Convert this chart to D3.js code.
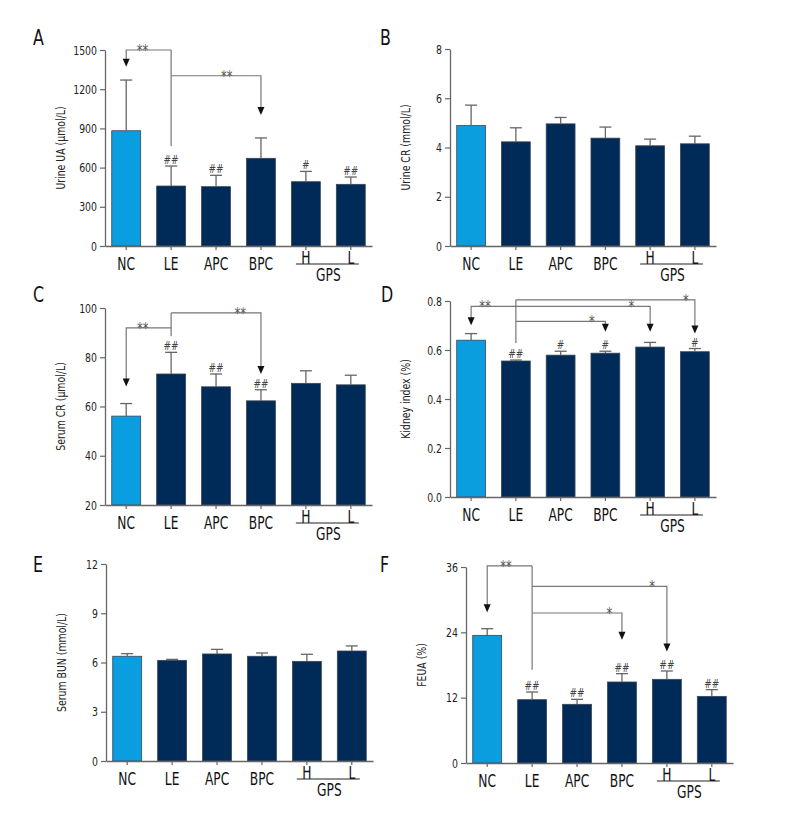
<!DOCTYPE html>
<html>
<head>
<meta charset="utf-8">
<script src="https://d3js.org/d3.v7.min.js"></script>
<style>
  body { margin: 0; background: #fff; }
  text { font-family: "Liberation Sans Narrow", "Arial Narrow", "DejaVu Sans Condensed", sans-serif; }
</style>
</head>
<body>
<svg id="fig" width="792" height="840"></svg>
<script>
// groups on every x axis
const groups = ["NC", "LE", "APC", "BPC", "H", "L"];

// A - urine uric acid
const urineUA = [882, 459, 454, 671, 492, 472];
const urineUAsd = [388, 153, 87, 156, 79, 56];
const urineUAhash = ["", "##", "##", "", "#", "##"];
const urineUAticks = [0, 300, 600, 900, 1200, 1500];

// B - urine creatinine
const urineCR = [4.89, 4.23, 4.96, 4.38, 4.07, 4.15];
const urineCRsd = [0.83, 0.57, 0.26, 0.45, 0.27, 0.31];
const urineCRticks = [0, 2, 4, 6, 8];

// C - serum creatinine
const serumCR = [56.1, 73.2, 68.0, 62.3, 69.4, 68.8];
const serumCRsd = [5.1, 8.8, 5.2, 4.5, 5.1, 3.9];
const serumCRhash = ["", "##", "##", "##", "", ""];
const serumCRticks = [20, 40, 60, 80, 100];

// D - kidney index
const kidney = [0.640, 0.555, 0.579, 0.587, 0.612, 0.593];
const kidneySd = [0.027, 0.004, 0.016, 0.008, 0.019, 0.013];
const kidneyHash = ["", "##", "#", "#", "", "#"];
const kidneyTicks = [0, 0.2, 0.4, 0.6, 0.8];

// E - serum BUN
const serumBUN = [6.38, 6.13, 6.52, 6.38, 6.07, 6.70];
const serumBUNsd = [0.16, 0.06, 0.28, 0.20, 0.43, 0.31];
const serumBUNticks = [0, 3, 6, 9, 12];

// F - FEUA
const feua = [23.45, 11.63, 10.78, 14.88, 15.37, 12.24];
const feuaSd = [1.22, 1.41, 0.91, 1.53, 1.53, 1.23];
const feuaHash = ["", "##", "##", "##", "##", "##"];
const feuaTicks = [0, 12, 24, 36];

// significance brackets from LE: stem range, then target / level / arrow tip / label
const annA = { stem: [765, 1500], links: [
  { to: "NC", level: 1500, tip: 1372, label: "**", t: 0.64 },
  { to: "BPC", level: 1303, tip: 1003, label: "**", t: 0.62 } ] };
const annC = { stem: [88.5, 98], links: [
  { to: "NC", level: 91.9, tip: 68.1, label: "**", t: 0.63 },
  { to: "BPC", level: 98, tip: 73.2, label: "**", t: 0.77 } ] };
const annD = { stem: [0.629, 0.805], links: [
  { to: "NC", level: 0.778, tip: 0.701, label: "**", t: 0.69 },
  { to: "H", level: 0.778, tip: 0.674, label: "*", t: 0.86 },
  { to: "BPC", level: 0.717, tip: 0.674, label: "*", t: 0.85 },
  { to: "L", level: 0.805, tip: 0.667, label: "*", t: 0.95 } ] };
const annF = { stem: [17.14, 36.2], links: [
  { to: "NC", level: 36.2, tip: 27.7, label: "**", t: 0.58 },
  { to: "H", level: 32.45, tip: 20.5, label: "*", t: 0.89 },
  { to: "BPC", level: 27.55, tip: 22.65, label: "*", t: 0.86 } ] };

const svg = d3.select("svg#fig");
const light = "#0a9de0", navy = "#002a58", axisCol = "#666", lineCol = "#777";
const SX = 0.8; // squeeze text horizontally, the source font is a condensed one

const panels = [
  { letter: "A", mean: urineUA, sd: urineUAsd, hash: urineUAhash, ann: annA, ticks: urineUAticks,
    fmt: d3.format("d"), ylab: "Urine UA (\u03bcmol/L)", x0: 105, x1: 372, yt: 50, yb: 246, lx: 33, ly: 45 },
  { letter: "B", mean: urineCR, sd: urineCRsd, ticks: urineCRticks,
    fmt: d3.format("d"), ylab: "Urine CR (mmol/L)", x0: 450, x1: 716, yt: 49, yb: 246, lx: 380, ly: 45 },
  { letter: "C", mean: serumCR, sd: serumCRsd, hash: serumCRhash, ann: annC, ticks: serumCRticks,
    fmt: d3.format("d"), ylab: "Serum CR (\u03bcmol/L)", x0: 105, x1: 372, yt: 308, yb: 505, lx: 33, ly: 302 },
  { letter: "D", mean: kidney, sd: kidneySd, hash: kidneyHash, ann: annD, ticks: kidneyTicks,
    fmt: d3.format(".1f"), ylab: "Kidney index (%)", x0: 450, x1: 716, yt: 301, yb: 497, lx: 381, ly: 302 },
  { letter: "E", mean: serumBUN, sd: serumBUNsd, ticks: serumBUNticks,
    fmt: d3.format("d"), ylab: "Serum BUN (mmol/L)", x0: 106, x1: 373, yt: 564, yb: 761, lx: 33, ly: 572 },
  { letter: "F", mean: feua, sd: feuaSd, hash: feuaHash, ann: annF, ticks: feuaTicks,
    fmt: d3.format("d"), ylab: "FEUA (%)", x0: 466, x1: 733, yt: 567, yb: 763, lx: 380, ly: 572 }
];

// text placed at (x,y) and narrowed with a scale
function ntext(g, x, y, s, size, anchor, fill) {
  return g.append("text")
    .attr("transform", `translate(${x},${y}) scale(${SX},1)`)
    .attr("text-anchor", anchor).attr("font-size", size).attr("fill", fill)
    .text(s);
}

function drawPanel(p) {
  const g = svg.append("g");
  const x = d3.scaleBand().domain(groups).range([p.x0, p.x1]).paddingInner(0.356).paddingOuter(0.15);
  const y = d3.scaleLinear().domain([p.ticks[0], p.ticks[p.ticks.length - 1]]).range([p.yb, p.yt]);
  const cx = d => x(d) + x.bandwidth() / 2;
  const rows = groups.map((k, i) => ({ k, m: p.mean[i], s: p.sd[i], h: p.hash ? p.hash[i] : "" }));

  g.selectAll("rect.bar").data(rows).join("rect")
    .attr("class", "bar")
    .attr("x", d => x(d.k)).attr("width", x.bandwidth())
    .attr("y", d => y(d.m)).attr("height", d => p.yb - y(d.m))
    .attr("fill", d => d.k === "NC" ? light : navy)
    .attr("stroke", "#3a4654").attr("stroke-width", 0.8);

  // error bars (upper only)
  const eb = g.selectAll("g.err").data(rows).join("g").attr("class", "err")
    .attr("stroke", axisCol).attr("stroke-width", 1.3);
  eb.append("line").attr("x1", d => cx(d.k)).attr("x2", d => cx(d.k))
    .attr("y1", d => y(d.m)).attr("y2", d => y(d.m + d.s));
  eb.append("line").attr("x1", d => cx(d.k) - 6).attr("x2", d => cx(d.k) + 6)
    .attr("y1", d => y(d.m + d.s)).attr("y2", d => y(d.m + d.s));

  rows.filter(d => d.h).forEach(d => {
    ntext(g, cx(d.k), y(d.m + d.s) - 2, d.h, 12.5, "middle", "#444");
  });

  // axes
  const ya = g.append("g").attr("transform", `translate(${p.x0},0)`)
    .call(d3.axisLeft(y).tickValues(p.ticks).tickFormat(p.fmt).tickSize(5).tickSizeOuter(0).tickPadding(3));
  const xa = g.append("g").attr("transform", `translate(0,${p.yb})`)
    .call(d3.axisBottom(x).tickSize(4).tickSizeOuter(0).tickFormat(""));
  [ya, xa].forEach(a => {
    a.select(".domain").attr("stroke", axisCol).attr("stroke-width", 1.3);
    a.selectAll(".tick line").attr("stroke", axisCol).attr("stroke-width", 1.2);
  });
  ya.selectAll(".tick text")
    .attr("x", -8 / SX).attr("transform", `scale(${SX},1)`)
    .attr("font-size", 13).attr("fill", "#222")
    .style("font-family", "'Liberation Sans Narrow','Arial Narrow','DejaVu Sans Condensed',sans-serif");

  // category labels
  groups.forEach(d => {
    const hl = d === "H" || d === "L";
    ntext(g, cx(d), hl ? p.yb + 18 : p.yb + 24, d, 17, "middle", "#111");
  });
  g.append("line")
    .attr("x1", cx("H") - 10).attr("x2", cx("L") + 8)
    .attr("y1", p.yb + 18).attr("y2", p.yb + 18)
    .attr("stroke", "#222").attr("stroke-width", 1.2);
  ntext(g, (cx("H") + cx("L")) / 2, p.yb + 35, "GPS", 17, "middle", "#111");

  // y label
  g.append("text")
    .attr("transform", `translate(${p.x0 - 40},${(p.yt + p.yb) / 2}) rotate(-90) scale(${SX},1)`)
    .attr("text-anchor", "middle").attr("font-size", 13).attr("fill", "#222")
    .text(p.ylab);

  // panel letter
  ntext(g, p.lx, p.ly, p.letter, 22, "start", "#111");

  // significance brackets
  if (p.ann) {
    const a = p.ann, sx = cx("LE");
    g.append("line").attr("x1", sx).attr("x2", sx)
      .attr("y1", y(a.stem[0])).attr("y2", y(a.stem[1]))
      .attr("stroke", lineCol).attr("stroke-width", 1.2);
    a.links.forEach(l => {
      const tx = cx(l.to), ly = y(l.level), ty = y(l.tip);
      g.append("path")
        .attr("d", `M${sx},${ly}H${tx}V${ty - 7}`)
        .attr("fill", "none").attr("stroke", lineCol).attr("stroke-width", 1.2);
      g.append("path")
        .attr("d", `M${tx - 3.5},${ty - 8}L${tx + 3.5},${ty - 8}L${tx},${ty}Z`)
        .attr("fill", "#111");
      ntext(g, sx + l.t * (tx - sx), ly + 6, l.label, 16, "middle", "#555");
    });
  }
}

panels.forEach(drawPanel);
</script>
</body>
</html>
